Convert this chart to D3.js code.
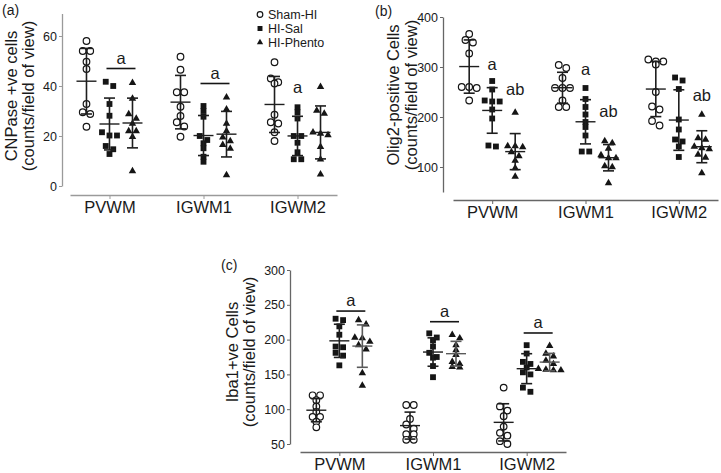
<!DOCTYPE html>
<html><head><meta charset="utf-8">
<script src="https://cdn.jsdelivr.net/npm/d3@7"></script>
<style>
body{margin:0;background:#fff}
svg{display:block}
text{font-family:"Liberation Sans",Arial,Helvetica,sans-serif;fill:#1a1a1a}
</style>
</head><body>
<svg id="chart" width="721" height="473"></svg>
<script>
// ---------- data ----------
const categories = ["PVWM", "IGWM1", "IGWM2"];
const groups = ["Sham-HI", "HI-Sal", "HI-Phento"];

// (a) CNPase +ve cells
const cnpSham   = [[58, 54, 54, 49.7, 46.8, 32.8, 29.5, 28.8, 23.7],
                   [51.7, 46.5, 37.5, 37.5, 31.7, 28, 25.5, 23.8, 19.7],
                   [49.5, 43, 41.5, 41, 28.5, 25.5, 25, 21.5, 18]];
const cnpSal    = [[41.7, 40, 32.8, 28.1, 21.5, 20.2, 20.2, 16, 14.7, 12.8],
                   [32, 30, 27.7, 20, 18.4, 17.1, 15.1, 11.7, 9.7],
                   [31.5, 29.5, 27, 20, 20, 17.3, 13.5, 10.7, 10.7]];
const cnpPhento = [[41.3, 35, 28.8, 27, 25, 22, 22, 19.7, 6],
                   [35.5, 30.7, 25, 22, 19.5, 18, 16.5, 15, 4.4],
                   [39.7, 30.2, 29, 21.5, 21, 20.4, 15.7, 10.7, 4.7]];
const cnpTicks = [0, 20, 40, 60];
const cnpSig = [
  {category: "PVWM", label: "a", value: 47, bar: true},
  {category: "IGWM1", label: "a", value: 41, bar: true},
  {category: "IGWM2", label: "a", value: 37.2, bar: false, over: "HI-Sal"}
];

// (b) Olig2-positive cells
const oligSham   = [[366, 354, 349, 327, 260, 260, 258, 233],
                    [304, 298, 278, 258, 258, 258, 233, 220, 220],
                    [315, 311, 311, 305, 250, 221, 215, 192, 183]];
const oligSal    = [[272, 255, 233, 231, 231, 215, 197, 143, 141],
                    [258, 236, 220, 205, 190, 180, 163, 131, 131],
                    [279, 273, 256, 195, 175, 155, 151, 141, 120]];
const oligPhento = [[209, 142, 142, 140, 130, 122, 113, 98, 81],
                    [152, 148, 137, 124, 118, 118, 102, 100, 68],
                    [205, 158, 155, 141, 138, 136, 125, 119, 88]];
const oligTicks = [100, 200, 300, 400];
const oligSig = [
  {category: "PVWM", label: "a", value: 294, bar: false, over: "HI-Sal"},
  {category: "PVWM", label: "ab", value: 244, bar: false, over: "HI-Phento"},
  {category: "IGWM1", label: "a", value: 284, bar: false, over: "HI-Sal"},
  {category: "IGWM1", label: "ab", value: 200, bar: false, over: "HI-Phento"},
  {category: "IGWM2", label: "ab", value: 232, bar: false, over: "HI-Phento"}
];

// (c) Iba1+ve cells
const ibaSham   = [[120, 120, 113, 104, 96, 89, 89, 82, 74],
                   [106, 106, 86, 78, 72, 64, 64, 56, 56],
                   [131, 104, 98, 90, 75, 66, 62, 54, 50]];
const ibaSal    = [[230, 228, 219, 207, 190, 189, 181, 177, 163],
                   [209, 203, 199, 190, 181, 175, 174, 162, 146],
                   [192, 180, 168, 165, 160, 153, 150, 131, 125]];
const ibaPhento = [[228, 222, 203, 202, 197, 192, 186, 152, 134],
                   [207, 202, 192, 185, 178, 168, 165, 161, 160],
                   [191, 180, 176, 170, 165, 158, 157, 156, 156]];
const ibaTicks = [50, 100, 150, 200, 250, 300];
const ibaSig = [
  {category: "PVWM", label: "a", value: 241, bar: true},
  {category: "IGWM1", label: "a", value: 225.7, bar: true},
  {category: "IGWM2", label: "a", value: 209.5, bar: true}
];

// ---------- drawing ----------
const svg = d3.select("#chart");
const INK = "#151515";

function drawMarker(sel, group, cx, cy, scale = 1) {
  if (group === "Sham-HI") {
    sel.append("circle").attr("cx", cx).attr("cy", cy).attr("r", 3.3 * scale)
      .attr("fill", "#fff").attr("stroke", INK).attr("stroke-width", 1.2);
  } else if (group === "HI-Sal") {
    sel.append("path").attr("d", d3.symbol(d3.symbolSquare, 34 * scale * scale)())
      .attr("transform", `translate(${cx},${cy})`).attr("fill", INK);
  } else {
    sel.append("path").attr("d", d3.symbol(d3.symbolTriangle, 24 * scale * scale)())
      .attr("transform", `translate(${cx},${cy})`).attr("fill", INK);
  }
}

function dodge(vals, y, step) {
  const pts = vals.map(v => ({v, py: y(v)})).sort((a, b) => a.py - b.py);
  const rows = [];
  let cur = null;
  pts.forEach(p => {
    if (cur && p.py - cur[0].py < 4.6) cur.push(p);
    else { cur = [p]; rows.push(cur); }
  });
  rows.forEach(r => r.forEach((p, i) => p.dx = (i - (r.length - 1) / 2) * step));
  return pts;
}

function panel(cfg) {
  const g = svg.append("g");
  const x = d3.scalePoint().domain(categories).range(cfg.xRange).padding(0.42);
  const gx = d3.scalePoint().domain(groups).range([-23, 23]);
  const y = d3.scaleLinear().domain(cfg.yDomain).range(cfg.yRange);

  // axes
  const ya = g.append("g").attr("transform", `translate(${cfg.yAxisX},0)`)
    .call(d3.axisLeft(y).tickValues(cfg.ticks).tickSize(3).tickSizeOuter(0).tickPadding(2));
  ya.select(".domain").attr("stroke", cfg.axisColor).attr("stroke-width", 1.3);
  ya.selectAll(".tick line").attr("stroke", cfg.axisColor);
  ya.selectAll(".tick text").attr("font-size", 12.5).attr("font-family", null).attr("fill", "#1a1a1a");

  const xa = g.append("g").attr("transform", `translate(0,${cfg.xAxisY})`)
    .call(d3.axisBottom(x).tickSize(4).tickSizeOuter(0).tickPadding(4));
  xa.select(".domain").attr("stroke", cfg.axisColor).attr("stroke-width", 1.5);
  xa.selectAll(".tick line").attr("stroke", cfg.axisColor);
  xa.selectAll(".tick text").attr("font-size", 16.5).attr("font-family", null)
    .attr("fill", "#1a1a1a").attr("dy", "0.6em");

  // panel label
  g.append("text").attr("x", cfg.labelX).attr("y", cfg.labelY)
    .attr("font-size", 14).text(cfg.label);

  // y title
  cfg.title.forEach((t, i) => {
    g.append("text")
      .attr("transform", `translate(${cfg.titleX[i]},${cfg.titleY}) rotate(-90)`)
      .attr("text-anchor", "middle").attr("font-size", 16.5).text(t);
  });

  const series = {"Sham-HI": cfg.sham, "HI-Sal": cfg.sal, "HI-Phento": cfg.phento};
  const marks = g.append("g");
  const bars = g.append("g");
  categories.forEach((cat, ci) => {
    groups.forEach(grp => {
      const vals = series[grp][ci];
      const cx = x(cat) + gx(grp);
      dodge(vals, y, 7.5).forEach(p => drawMarker(marks, grp, cx + p.dx, p.py));
      const m = d3.mean(vals), sd = d3.deviation(vals);
      const col = (cfg.grayPhento && grp === "HI-Phento") ? "#5a5a5a" : "#1e1e1e";
      bars.append("line").attr("x1", cx).attr("x2", cx).attr("y1", y(m + sd)).attr("y2", y(m - sd))
        .attr("stroke", col).attr("stroke-width", 1.6);
      [m + sd, m - sd].forEach(v => bars.append("line")
        .attr("x1", cx - 5.5).attr("x2", cx + 5.5).attr("y1", y(v)).attr("y2", y(v))
        .attr("stroke", col).attr("stroke-width", 1.6));
      bars.append("line").attr("x1", cx - 10).attr("x2", cx + 10).attr("y1", y(m)).attr("y2", y(m))
        .attr("stroke", col).attr("stroke-width", 1.4);
    });
  });

  // significance marks
  cfg.sig.forEach(s => {
    if (s.bar) {
      const xa1 = x(s.category) + gx("HI-Sal") - 3;
      const xa2 = x(s.category) + gx("HI-Phento") + 3;
      g.append("line").attr("x1", xa1).attr("x2", xa2).attr("y1", y(s.value)).attr("y2", y(s.value))
        .attr("stroke", INK).attr("stroke-width", 1.6);
      g.append("text").attr("x", (xa1 + xa2) / 2).attr("y", y(s.value) - 5)
        .attr("text-anchor", "middle").attr("font-size", 16.5).text(s.label);
    } else {
      g.append("text").attr("x", x(s.category) + gx(s.over)).attr("y", y(s.value))
        .attr("text-anchor", "middle").attr("font-size", 16.5).text(s.label);
    }
  });
  return g;
}

panel({label: "(a)", labelX: 2, labelY: 15, title: ["CNPase +ve cells", "(counts/field of view)"],
  titleX: [17, 34], titleY: 96, sham: cnpSham, sal: cnpSal, phento: cnpPhento,
  yDomain: [0, 69], yRange: [186, 13.5], ticks: cnpTicks, yAxisX: 62, xAxisY: 195,
  xRange: [70, 337], axisColor: "#9a9a9a", sig: cnpSig});

panel({label: "(b)", labelX: 375, labelY: 16, title: ["Olig2-positive Cells", "(counts/field of view)"],
  titleX: [399, 417], titleY: 95, sham: oligSham, sal: oligSal, phento: oligPhento,
  yDomain: [50, 400], yRange: [192, 17], ticks: oligTicks, yAxisX: 443, xAxisY: 200,
  xRange: [453, 718], axisColor: "#666", sig: oligSig});

panel({label: "(c)", labelX: 221, labelY: 270, title: ["Iba1+ve Cells", "(counts/field of view)"],
  titleX: [238, 255], titleY: 352, sham: ibaSham, sal: ibaSal, phento: ibaPhento,
  yDomain: [50, 300], yRange: [444, 270], ticks: ibaTicks, yAxisX: 290, xAxisY: 452,
  xRange: [300, 566], axisColor: "#666", sig: ibaSig, grayPhento: true});

// legend (panel a)
const leg = svg.append("g");
groups.forEach((grp, i) => {
  const ly = 14.5 + i * 14;
  drawMarker(leg, grp, 260, ly, 0.85);
  leg.append("text").attr("x", 268).attr("y", ly).attr("dy", "0.35em")
    .attr("font-size", 12.5).text(grp);
});
</script>
</body></html>
